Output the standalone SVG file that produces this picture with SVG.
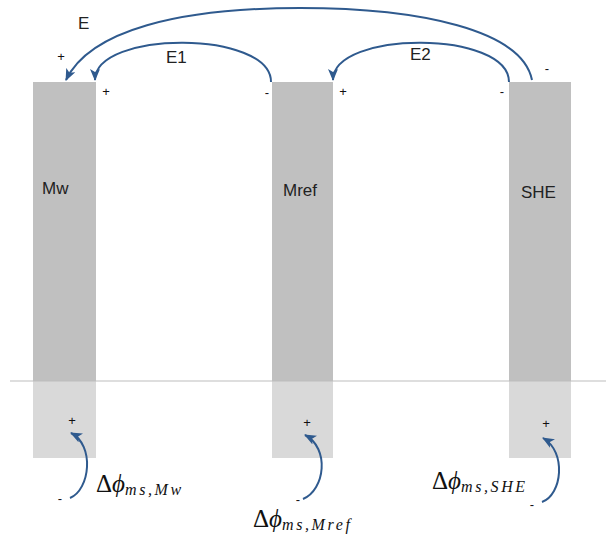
<svg xmlns="http://www.w3.org/2000/svg" width="606" height="535" viewBox="0 0 606 535">
<style>
.dark{fill:#c0c0c0}
.light{fill:#d9d9d9}
.lbl{font-family:"Liberation Sans",Arial,sans-serif;font-size:17px;fill:#222}
.sg{font-family:"Liberation Sans",Arial,sans-serif;font-size:13px;fill:#111;text-anchor:middle}
.math{font-family:"Liberation Serif","Times New Roman",serif;font-size:25px;fill:#111}
.sub{font-style:italic;font-size:16px;letter-spacing:2.6px}
.arr{fill:none;stroke:#2f5a8e;stroke-width:2;marker-end:url(#ah)}
</style>
<defs>
<marker id="ah" viewBox="0 0 12 10" refX="11" refY="5" markerWidth="12" markerHeight="10" markerUnits="userSpaceOnUse" orient="auto">
<path d="M0,0 L12,5 L0,10 L3,5 z" fill="#2f5a8e"/>
</marker>
</defs>
<rect width="606" height="535" fill="#fff"/>
<g id="Mw">
<rect class="dark" x="33" y="82" width="63" height="299"/>
<rect class="light" x="33" y="381" width="63" height="77"/>
<text class="lbl" x="42" y="194">Mw</text>
</g>
<g id="Mref">
<rect class="dark" x="272" y="82" width="61" height="299"/>
<rect class="light" x="272" y="381" width="61" height="77"/>
<text class="lbl" x="283" y="196">Mref</text>
</g>
<g id="SHE">
<rect class="dark" x="509" y="82" width="62" height="299"/>
<rect class="light" x="509" y="381" width="62" height="77"/>
<text class="lbl" x="521" y="198">SHE</text>
</g>
<line x1="10" y1="381" x2="606" y2="381" stroke="#bdbdbd" stroke-width="1"/>
<g id="connectors">
<path class="arr" d="M532,80 C522,30 420,8 300,8 C180,8 90,30 66,80"/>
<path class="arr" d="M271,82 C271,30 95,30 95,80"/>
<path class="arr" d="M509,82 C509,30 333,30 333,80"/>
<path class="arr" d="M70,498 C90,490 95,445 71,433"/>
<path class="arr" d="M303,499 C325,490 330,448 305,435"/>
<path class="arr" d="M542,502 C562,495 567,452 543,438"/>
</g>
<g id="labels">
<text class="lbl" x="78" y="29">E</text>
<text class="lbl" x="166" y="63">E1</text>
<text class="lbl" x="410" y="60">E2</text>
<text class="sg" x="61" y="61">+</text>
<text class="sg" x="106" y="96">+</text>
<text class="sg" x="267" y="97">-</text>
<text class="sg" x="343" y="96">+</text>
<text class="sg" x="502" y="96">-</text>
<text class="sg" x="547" y="73">-</text>
<text class="sg" x="72" y="425">+</text>
<text class="sg" x="307" y="427">+</text>
<text class="sg" x="546" y="428">+</text>
<text class="sg" x="60" y="503">-</text>
<text class="sg" x="298" y="504">-</text>
<text class="sg" x="532" y="509">-</text>
<text class="math" x="96" y="492">Δ<tspan font-style="italic">ϕ</tspan><tspan class="sub" dy="3">ms,Mw</tspan></text>
<text class="math" x="253" y="527">Δ<tspan font-style="italic">ϕ</tspan><tspan class="sub" dy="3">ms,Mref</tspan></text>
<text class="math" x="432" y="489">Δ<tspan font-style="italic">ϕ</tspan><tspan class="sub" dy="3">ms,SHE</tspan></text>
</g>
</svg>
